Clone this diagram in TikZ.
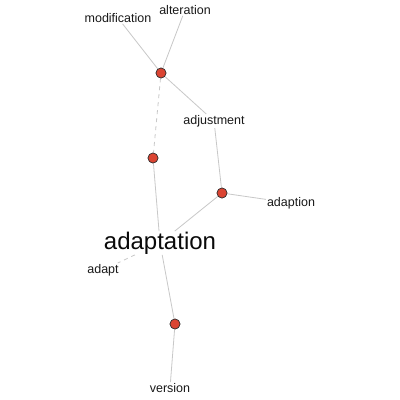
\documentclass[tikz,border=0pt]{standalone}
\usepackage{fontspec}
\setmainfont{Liberation Sans}
\begin{document}
\begin{tikzpicture}[x=1pt,y=-1pt,
  dot/.style={circle,draw=black!80,fill={rgb,255:red,219;green,68;blue,50},line width=0.6pt,minimum size=10pt,inner sep=0pt},
  lbl/.style={font=\fontsize{12.5}{14}\selectfont,text={rgb,255:red,25;green,25;blue,25},inner sep=1pt},
  big/.style={font=\fontsize{24}{28}\selectfont,text={rgb,255:red,10;green,10;blue,10},inner sep=0.5pt},
  edge/.style={draw={rgb,255:red,200;green,200;blue,200},line width=0.8pt},
  dedge/.style={edge,dash pattern=on 4pt off 4pt}]
\path[use as bounding box,fill=white] (0,0) rectangle (400,400);
% labels
\node[lbl] (modification) at (118,18) {modification};
\node[lbl] (alteration) at (185,10) {alteration};
\node[lbl] (adjustment) at (214,121) {adjustment};
\node[lbl] (adaption) at (291,203) {adaption};
\node[big] (adaptation) at (160,243) {adaptation};
\node[lbl] (adapt) at (103,270) {adapt};
\node[lbl] (version) at (170,388) {version};
% dots
\node[dot] (a) at (161,73) {};
\node[dot] (b) at (153,158) {};
\node[dot] (c) at (222,193) {};
\node[dot] (d) at (175,324) {};
% edges
\draw[edge] (modification) -- (a);
\draw[edge] (alteration) -- (a);
\draw[edge] (a) -- (adjustment);
\draw[edge] (adjustment) -- (c);
\draw[dedge] (a) -- (b);
\draw[edge] (b) -- (adaptation);
\draw[edge] (c) -- (adaptation);
\draw[edge] (c) -- (adaption);
\draw[dedge] (adaptation) -- (adapt);
\draw[edge] (adaptation) -- (d);
\draw[edge] (d) -- (version);
% redraw dots on top of the connectors
\node[dot] at (a) {};
\node[dot] at (b) {};
\node[dot] at (c) {};
\node[dot] at (d) {};
\end{tikzpicture}
\end{document}
